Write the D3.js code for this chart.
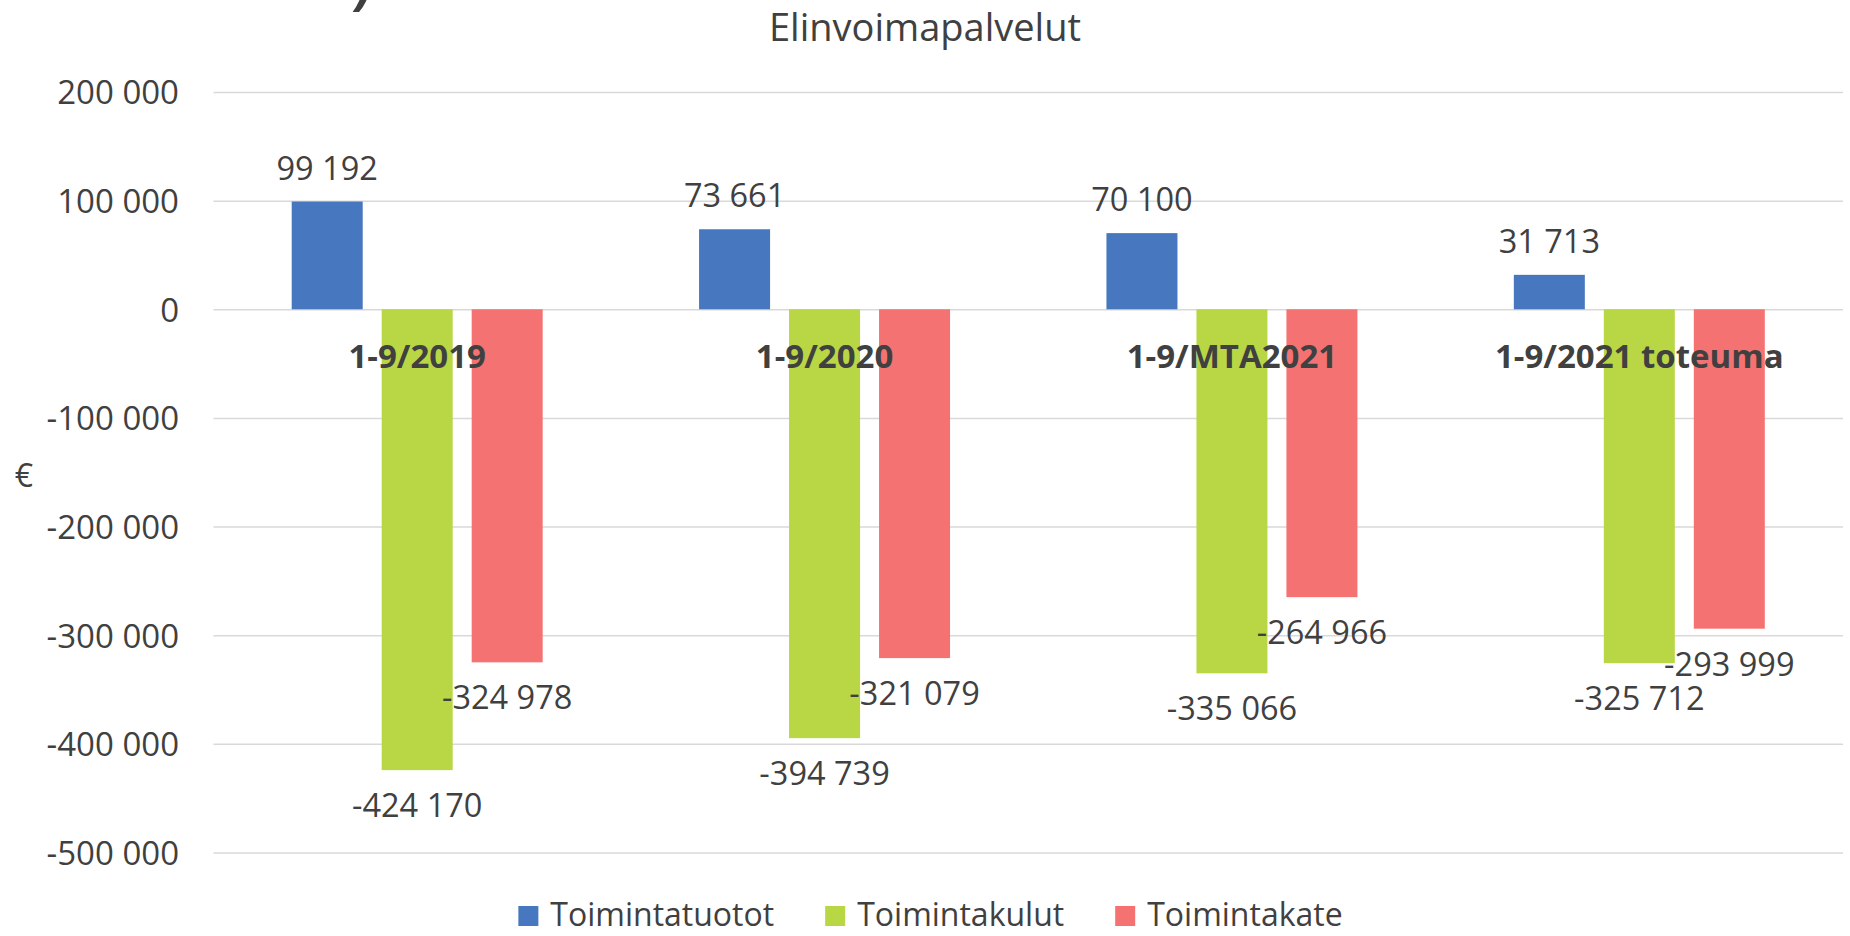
<!DOCTYPE html>
<html>
<head>
<meta charset="utf-8">
<script src="https://cdn.jsdelivr.net/npm/d3@7"></script>
<style>
  html, body { margin: 0; padding: 0; background: #ffffff; }
  svg { display: block; font-family: "Open Sans", "Noto Sans", sans-serif; }
</style>
</head>
<body>
<svg id="chart" width="1850" height="936"></svg>
<script>
// ---- data ----
const categories = ["1-9/2019", "1-9/2020", "1-9/MTA2021", "1-9/2021 toteuma"];
const seriesNames = ["Toimintatuotot", "Toimintakulut", "Toimintakate"];
const toimintatuotot = [99192, 73661, 70100, 31713];
const toimintakulut = [-424170, -394739, -335066, -325712];
const toimintakate = [-324978, -321079, -264966, -293999];
const yTicks = [200000, 100000, 0, -100000, -200000, -300000, -400000, -500000];
const chartTitle = "Elinvoimapalvelut";
const yAxisTitle = "€";

(function () {
const seriesValues = [toimintatuotot, toimintakulut, toimintakate];
const colors = ["#4677BF", "#B9D645", "#F57272"];

const locale = d3.formatLocale({decimal: ",", thousands: " ", grouping: [3], currency: ["", " €"], minus: "-"});
const fmt = locale.format(",d");

const svg = d3.select("#chart");
const plotLeft = 213.5, plotRight = 1843, plotTop = 92, plotBottom = 852.5;

const x0 = d3.scaleBand().domain(categories).range([plotLeft, plotRight]).padding(0);
const x1 = d3.scaleBand().domain(seriesNames).range([0, x0.bandwidth()])
  .paddingInner(0.211).paddingOuter(0.869);
const y = d3.scaleLinear().domain([-500000, 200000]).range([plotBottom, plotTop]);

const textColor = "#404040";

// cropped glyph remnant at top-left (bottom of a larger, cut-off heading)
svg.append("text").attr("x", 350).attr("y", -1)
  .attr("font-size", 84).attr("fill", textColor).text(")");

// title
svg.append("text").attr("x", 925).attr("y", 41).attr("text-anchor", "middle")
  .attr("font-size", 38).attr("fill", textColor).text(chartTitle);

// y axis with gridlines
const yAxis = d3.axisLeft(y).tickValues(yTicks).tickFormat(fmt)
  .tickSizeInner(-(plotRight - plotLeft)).tickSizeOuter(0).tickPadding(plotLeft - 179);
const gAxis = svg.append("g").attr("transform", `translate(${plotLeft},0)`).call(yAxis);
gAxis.select(".domain").remove();
gAxis.selectAll(".tick line").attr("stroke", "#d9d9d9").attr("stroke-width", 1.5);
gAxis.selectAll(".tick text").attr("fill", textColor).attr("font-size", 33)
  .attr("font-family", "'Open Sans', 'Noto Sans', sans-serif").attr("dy", "0.36em");

// y axis title
svg.append("text").attr("x", 24).attr("y", 474).attr("text-anchor", "middle")
  .attr("dominant-baseline", "central").attr("font-size", 32).attr("fill", textColor).text(yAxisTitle);

// bars
const rows = [];
categories.forEach((c, i) => {
  seriesNames.forEach((s, j) => {
    rows.push({cat: c, series: s, value: seriesValues[j][i], color: colors[j]});
  });
});

svg.append("g").selectAll("rect").data(rows).join("rect")
  .attr("x", d => x0(d.cat) + x1(d.series))
  .attr("width", x1.bandwidth())
  .attr("y", d => d.value >= 0 ? y(d.value) : y(0))
  .attr("height", d => Math.abs(y(d.value) - y(0)))
  .attr("fill", d => d.color);

// category labels (drawn over bars)
svg.append("g").selectAll("text").data(categories).join("text")
  .attr("x", d => x0(d) + x0.bandwidth() / 2)
  .attr("y", 368)
  .attr("text-anchor", "middle")
  .attr("font-size", 33).attr("font-weight", "bold").attr("fill", textColor)
  .text(d => d);

// data labels
svg.append("g").selectAll("text").data(rows).join("text")
  .attr("x", d => x0(d.cat) + x1(d.series) + x1.bandwidth() / 2)
  .attr("y", d => d.value >= 0 ? y(d.value) - 22 : y(d.value) + 47)
  .attr("text-anchor", "middle")
  .attr("font-size", 32.5).attr("fill", textColor)
  .text(d => fmt(d.value));

// legend
const legend = svg.append("g");
let lx = 0;
seriesNames.forEach((s, j) => {
  const g = legend.append("g").attr("transform", `translate(${lx},0)`);
  g.append("rect").attr("x", 0).attr("y", 906).attr("width", 20).attr("height", 20).attr("fill", colors[j]);
  const t = g.append("text").attr("x", 32).attr("y", 926).attr("font-size", 32).attr("fill", textColor).text(s);
  const tw = t.node().getComputedTextLength();
  lx += 32 + tw + (j < seriesNames.length - 1 ? 51 : 0);
});
legend.attr("transform", `translate(${930.5 - lx / 2},0)`);
})();
</script>
</body>
</html>
